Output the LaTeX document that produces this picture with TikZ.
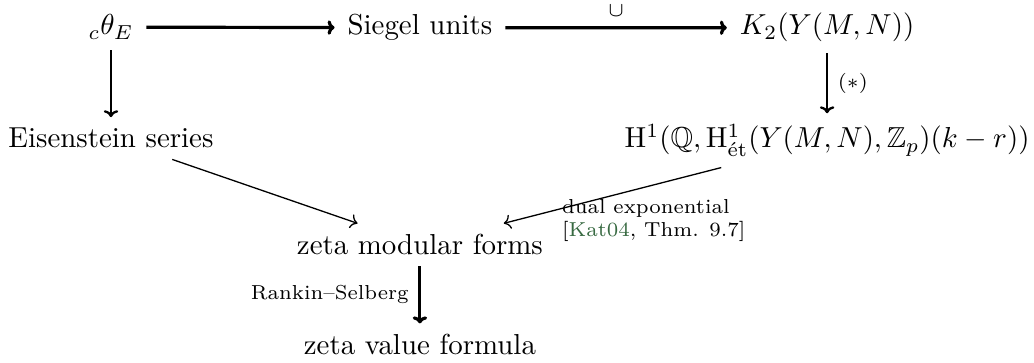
\documentclass[tikz,border=0pt]{standalone}
\usepackage{amsmath,amssymb}
\usepackage{xcolor}
\usetikzlibrary{arrows.meta}
\definecolor{citegreen}{RGB}{55,105,65}

\begin{document}
\begin{tikzpicture}[
    cell/.style={anchor=base, inner xsep=1ex, inner ysep=0.85ex},
    arrow/.style={-{To[length=2.4pt,width=5pt]}},
    heavy/.style={arrow, line width=1.1pt},
    medium/.style={arrow, line width=0.8pt},
    slim/.style={arrow, line width=0.45pt},
    lbl/.style={font=\scriptsize}
]
\useasboundingbox (0pt,0pt) rectangle (357.8pt,-125.3pt);
\node[cell] (theta) at (38.4pt,-12.1pt) {${}_c\theta_E$};
\node[cell] (siegel) at (145.3pt,-12.1pt) {Siegel units};
\node[cell] (ktwo) at (286.2pt,-12.1pt) {$K_2(Y(M,N))$};
\node[cell] (eis) at (38.4pt,-51.2pt) {Eisenstein series};
\node[cell] (hone) at (286.2pt,-51.2pt) {$\mathrm{H}^1(\mathbb{Q},\mathrm{H}^1_{\text{\'et}}(Y(M,N),\mathbb{Z}_p)(k-r))$};
\node[cell] (zmf) at (145.3pt,-88.2pt) {zeta modular forms};
\node[cell] (zvf) at (145.3pt,-122.8pt) {zeta value formula};
\draw[heavy] (theta) -- (siegel);
\draw[heavy] (siegel) -- node[lbl, above] {$\cup$} (ktwo);
\draw[medium] (theta) -- (eis);
\draw[medium] (ktwo) -- node[lbl, right] {$(*)$} (hone);
\draw[slim] (eis) -- (zmf);
\draw[slim] (hone) -- node[lbl, pos=0.31, below, yshift=-1.5pt, align=left] {dual exponential\\{}[\textcolor{citegreen}{Kat04}, Thm. 9.7]} (zmf);
\draw[heavy] (zmf) -- node[lbl, left] {Rankin--Selberg} (zvf);
\end{tikzpicture}
\end{document}
